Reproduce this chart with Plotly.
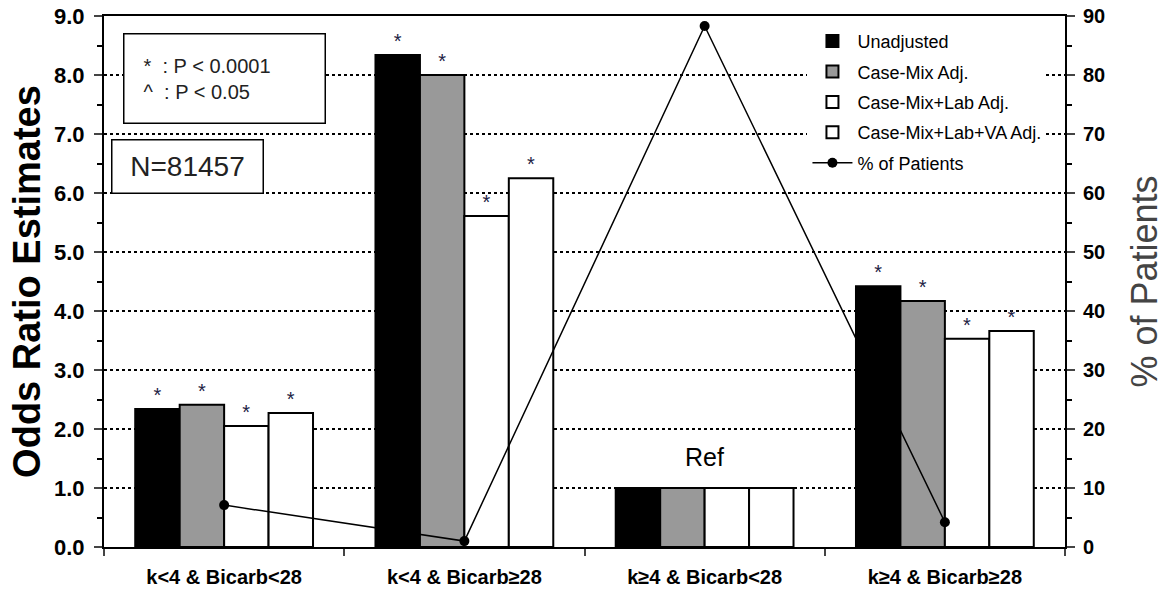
import plotly.graph_objects as go

categories = ["k<4 & Bicarb<28", "k<4 & Bicarb≥28", "k≥4 & Bicarb<28", "k≥4 & Bicarb≥28"]
unadjusted = [2.34, 8.34, 1.0, 4.42]
case_mix = [2.41, 8.00, 1.0, 4.17]
case_mix_lab = [2.05, 5.61, 1.0, 3.53]
case_mix_lab_va = [2.27, 6.25, 1.0, 3.66]
pct_patients = [7.1, 1.0, 88.3, 4.2]
sig_marks = ["*", "*", "", "*"]

FONT = "Liberation Sans, Arial, sans-serif"

fig = go.Figure()
series = [
    ("Unadjusted", unadjusted, "#000000"),
    ("Case-Mix Adj.", case_mix, "#999999"),
    ("Case-Mix+Lab Adj.", case_mix_lab, "#ffffff"),
    ("Case-Mix+Lab+VA Adj.", case_mix_lab_va, "#ffffff"),
]
for i, (name, vals, col) in enumerate(series):
    fig.add_trace(go.Bar(
        x=categories, y=vals, name=name, legendgroup=f"g{i}",
        marker=dict(color=col, line=dict(color="black", width=2)),
        text=sig_marks, textposition="outside",
        textfont=dict(size=20, color="#222244", family=FONT),
        cliponaxis=False, yaxis="y",
    ))

fig.add_trace(go.Scatter(
    x=categories, y=pct_patients, name="% of Patients", mode="lines+markers",
    legendgroup="g5",
    line=dict(color="black", width=1.5), marker=dict(color="black", size=10),
    yaxis="y2",
))

fig.update_layout(
    width=1173, height=594,
    margin=dict(l=104, r=108, t=16, b=47),
    paper_bgcolor="white", plot_bgcolor="white",
    barmode="group", bargap=0.26, bargroupgap=0,
    font=dict(family=FONT, color="black"),
    showlegend=True,
    legend=dict(x=0.732, y=0.987, xanchor="left", yanchor="top",
                bgcolor="rgba(255,255,255,1)", font=dict(size=18, family=FONT),
                tracegroupgap=4, itemwidth=40),
    xaxis=dict(
        type="category", tickson="boundaries", ticks="outside", ticklen=7,
        tickwidth=2, showline=True, linecolor="black", linewidth=2, mirror=True,
        tickfont=dict(size=20, family=FONT, weight="bold"), showgrid=False,
        automargin=False, ticklabelstandoff=11,
    ),
    yaxis=dict(
        range=[0, 9], dtick=1, tickformat=".1f", ticks="outside", ticklen=8,
        tickwidth=2, showline=True, linecolor="black", linewidth=2,
        tickfont=dict(size=22, family=FONT, weight="bold"),
        showgrid=True, gridcolor="black", gridwidth=2, griddash="dot",
        zeroline=False, automargin=False, ticklabelstandoff=5,
        ticklabeloverflow="allow",
        minor=dict(dtick=0.5, ticks="outside", ticklen=5, tickwidth=2, tickcolor="black", showgrid=False),
        title=dict(text="<b>Odds Ratio Estimates</b>", font=dict(size=38, family=FONT), standoff=2),
    ),
    yaxis2=dict(
        range=[0, 90], dtick=10, overlaying="y", side="right", ticks="outside",
        ticklen=8, tickwidth=2, showline=True, linecolor="black", linewidth=2,
        tickfont=dict(size=20, family=FONT, weight="bold"), showgrid=False, zeroline=False,
        automargin=False, ticklabeloverflow="allow", ticklabelstandoff=4,
        minor=dict(dtick=5, ticks="outside", ticklen=5, tickwidth=2, tickcolor="black"),
        title=dict(text="% of Patients", font=dict(size=36, family=FONT, color="#444444"), standoff=28),
    ),
)

fig.add_annotation(x=categories[2], y=1.53, xref="x", yref="y", text="Ref",
                   showarrow=False, font=dict(size=25, family=FONT))

fig.add_annotation(xref="paper", yref="paper", x=0.0198, y=0.968, xanchor="left", yanchor="top",
                   text="&nbsp;&nbsp;*&nbsp;&nbsp;: P < 0.0001<br>&nbsp;&nbsp;^&nbsp;&nbsp;: P < 0.05",
                   align="left", showarrow=False, font=dict(size=20, family=FONT, color="#222222"),
                   width=184, height=72, valign="middle",
                   bordercolor="black", borderwidth=1.5, borderpad=8, bgcolor="white")

fig.add_annotation(xref="paper", yref="paper", x=0.0073, y=0.769, xanchor="left", yanchor="top",
                   text="N=81457", showarrow=False, font=dict(size=28, family=FONT, color="#222222"),
                   width=138, height=40,
                   bordercolor="black", borderwidth=1.5, borderpad=6, bgcolor="white")

# remove the browser's default 8px body margin so the figure fills the window exactly
fig.write_html("out.html", config={"displayModeBar": False},
               post_script="document.body.style.margin='0';")
